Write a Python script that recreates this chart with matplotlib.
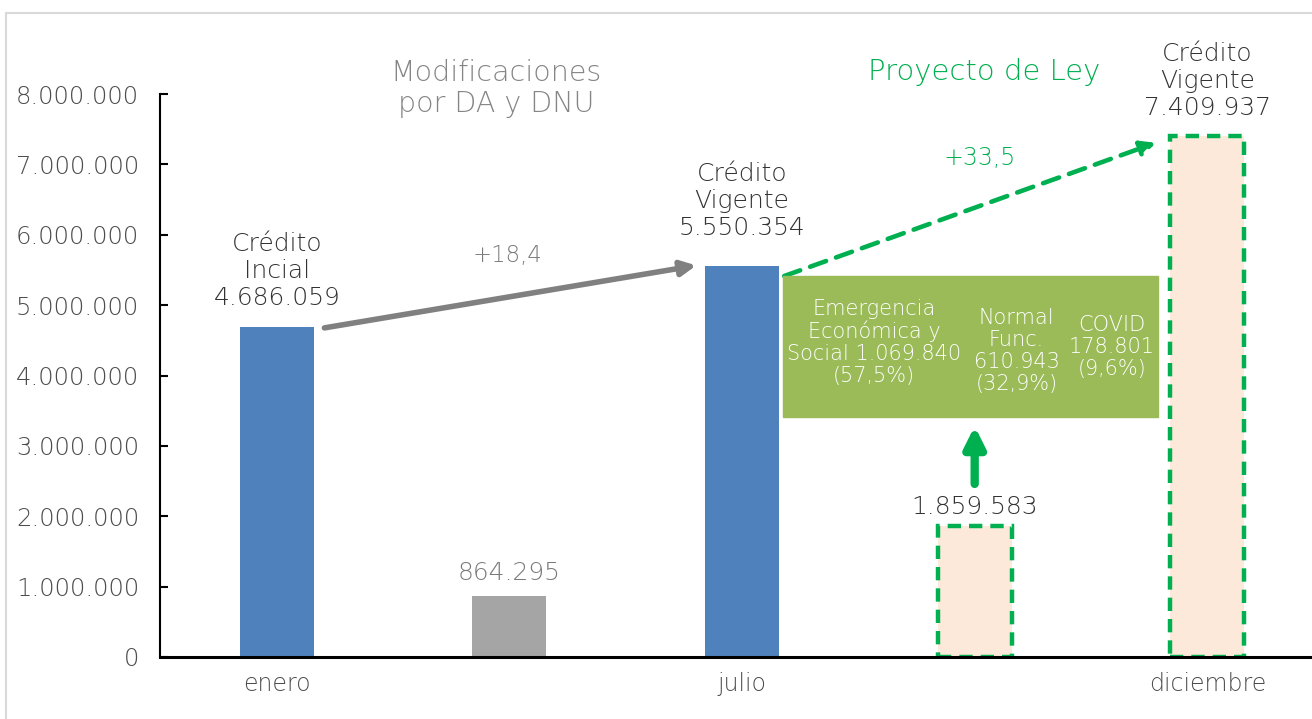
import matplotlib.pyplot as plt
from matplotlib.patches import Rectangle, FancyArrowPatch

plt.rcParams['font.family'] = ['DejaVu Sans']
plt.rcParams['font.weight'] = 200

# ---- data ----
posiciones = [0, 1, 2, 3, 4]
valores = [4686059, 864295, 5550354, 1859583, 7409937]
meses = ['enero', '', 'julio', '', 'diciembre']
etiquetas = ['Crédito\nIncial\n4.686.059', '864.295', 'Crédito\nVigente\n5.550.354',
             '1.859.583', 'Crédito\nVigente\n7.409.937']
y_ticks = [0, 1000000, 2000000, 3000000, 4000000, 5000000, 6000000, 7000000, 8000000]

desglose = ['Emergencia\nEconómica y\nSocial 1.069.840\n(57,5%)',
            'Normal\nFunc.\n610.943\n(32,9%)',
            'COVID\n178.801\n(9,6%)']

# ---- layout ----
colores_etiqueta = ['#333333', '#7a7a7a', '#333333', '#333333', '#333333']
sep_etiqueta = [320000, 227000, 447000, 170000, 298000]
desglose_x = [2.567, 3.18, 3.59]
desglose_y = [4.47e6, 4.35e6, 4.40e6]

AZUL = '#4F81BD'
GRIS = '#A5A5A5'
DURAZNO = '#FCE9DA'
VERDE = '#00B050'
VERDE_CAJA = '#9BBB59'

fig = plt.figure(figsize=(13.12, 7.19), dpi=100)
ax = fig.add_axes([160 / 1312, 1 - 657 / 719, 1 - 160 / 1312, (657 - 94) / 719])

# marco del grafico
fig.patches.append(Rectangle((6 / 1312, -0.05), 1.2, 1 - 13 / 719 + 0.05, transform=fig.transFigure,
                             fill=False, edgecolor='#d9d9d9', linewidth=1.5))

ancho = 0.318
# barras reales
ax.bar([0, 2], [valores[0], valores[2]], width=ancho, color=AZUL, zorder=2)
ax.bar([1], [valores[1]], width=ancho, color=GRIS, zorder=2)
# barras proyecto (borde punteado)
ax.bar([3, 4], [valores[3], valores[4]], width=ancho, color=DURAZNO, zorder=2,
       edgecolor=VERDE, linewidth=3.2, linestyle=(0, (3, 1.8)))

for x, v, t, c, s in zip(posiciones, valores, etiquetas, colores_etiqueta, sep_etiqueta):
    ax.text(x, v + s, t, ha='center', va='baseline', fontsize=18, color=c,
            linespacing=1.15, clip_on=False)

ax.set_xlim(-0.502, 4.45)
ax.set_ylim(0, 8000000)
ax.set_yticks(y_ticks)
ax.set_yticklabels([f'{v:,}'.replace(',', '.') for v in y_ticks], fontsize=17.5, color='#4d4d4d')
ax.set_xticks(posiciones)
ax.set_xticklabels(meses, fontsize=17, color='#4d4d4d')
ax.tick_params(axis='x', length=0, pad=11)
ax.tick_params(axis='y', direction='in', length=6, width=1.5, pad=15)
ax.spines['top'].set_visible(False)
ax.spines['right'].set_visible(False)
ax.spines['left'].set_linewidth(1.5)
ax.spines['bottom'].set_linewidth(2.2)

# titulos
ax.text(0.944, 8.08e6, 'Modificaciones\npor DA y DNU', ha='center', va='center', fontsize=20.5,
        color='#858585', linespacing=1.15, clip_on=False)
ax.text(3.04, 8.31e6, 'Proyecto de Ley', ha='center', va='center', fontsize=21,
        color=VERDE, clip_on=False)

# flechas
ax.add_patch(FancyArrowPatch((0.193, 4.67e6), (1.815, 5.57e6), arrowstyle='-|>',
                             mutation_scale=22, color='#808080', linewidth=4, zorder=3))
ax.text(0.99, 5.71e6, '+18,4', ha='center', va='center', fontsize=16.5, color='#7a7a7a')

ax.add_patch(FancyArrowPatch((2.17, 5.4e6), (3.79, 7.32e6), arrowstyle='-|>',
                             mutation_scale=22, color=VERDE, linewidth=3.3,
                             linestyle=(0, (3.7, 2.3)), zorder=3))
ax.text(3.02, 7.09e6, '+33,5', ha='center', va='center', fontsize=17, color=VERDE)

# caja con desglose
ax.add_patch(Rectangle((2.176, 3.41e6), 3.79 - 2.176, 2.0e6, color=VERDE_CAJA, zorder=3))
for x, y, t in zip(desglose_x, desglose_y, desglose):
    ax.text(x, y, t, ha='center', va='center', fontsize=15, color='white',
            linespacing=1.12, zorder=4)

ax.add_patch(FancyArrowPatch((3.0, 2.42e6), (3.0, 3.32e6), arrowstyle='-|>',
                             mutation_scale=30, color=VERDE, linewidth=6, zorder=3))

fig.savefig('out.png', dpi=100)
